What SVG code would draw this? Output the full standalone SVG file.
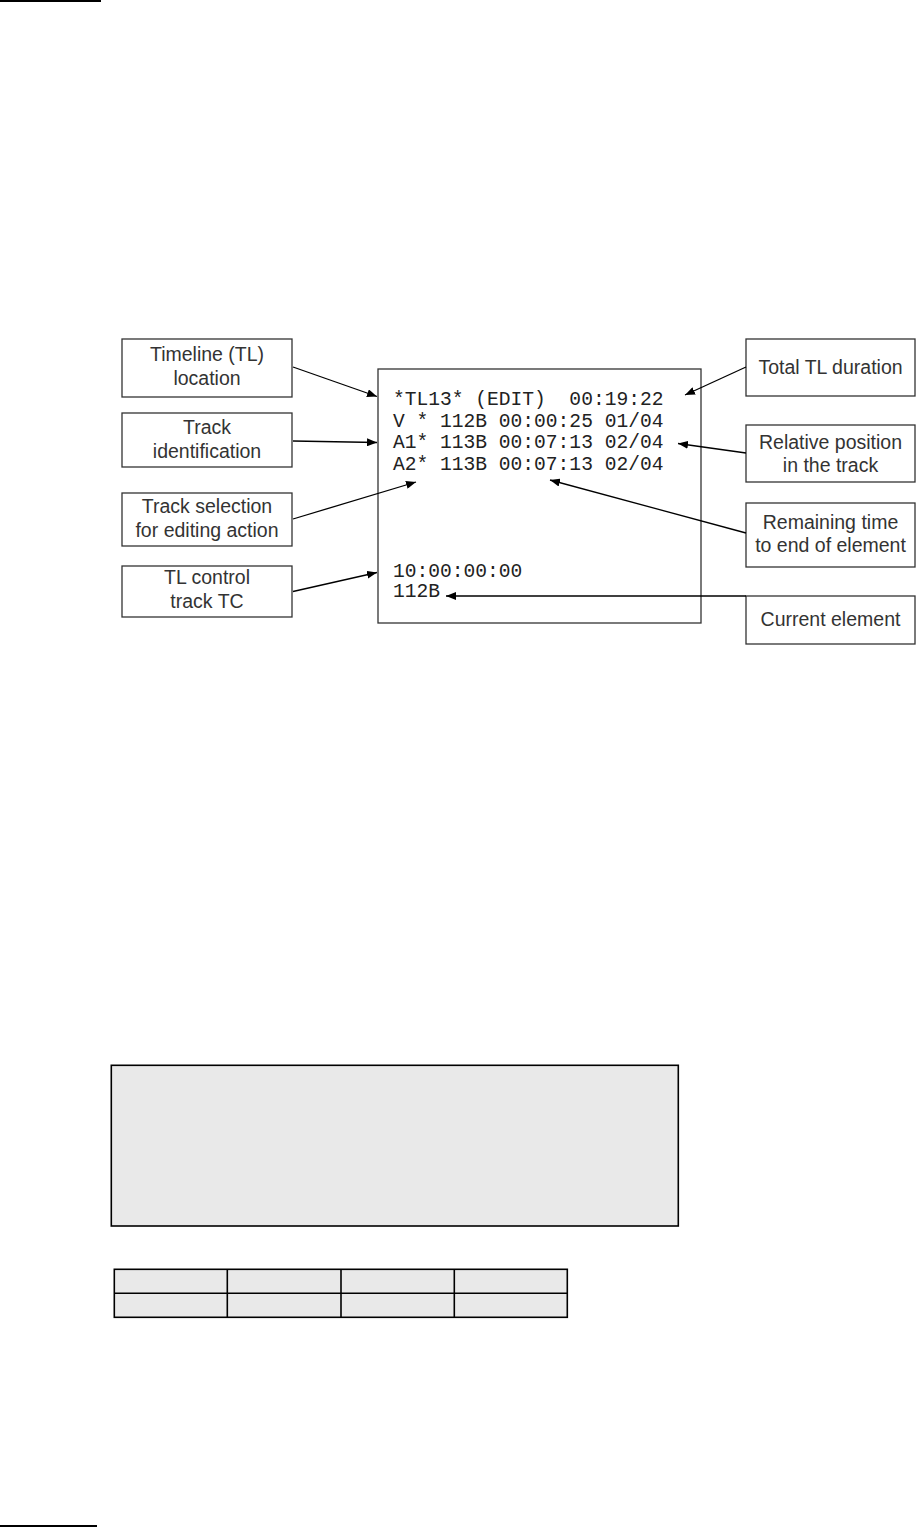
<svg xmlns="http://www.w3.org/2000/svg" width="917" height="1527" viewBox="0 0 917 1527">
<defs>
<marker id="ah" viewBox="0 0 10 8" refX="10" refY="4" markerWidth="10" markerHeight="8" markerUnits="userSpaceOnUse" orient="auto">
<path d="M0,0 L10,4 L0,8 Z" fill="#000"/>
</marker>
</defs>
<style>
.box{fill:#fff;stroke:#333;stroke-width:1.3}
.lbl{font-family:"Liberation Sans",Arial,sans-serif;font-size:19.5px;fill:#333;text-anchor:middle}
.mono{font-family:"Liberation Mono","Courier New",monospace;font-size:19.6px;fill:#222;white-space:pre}
.conn{stroke:#000;stroke-width:1.3;fill:none;marker-end:url(#ah)}
.grey{fill:#e9e9e9;stroke:#000;stroke-width:1.6}
</style>
<rect width="917" height="1527" fill="#fff"/>
<line x1="0" y1="1" x2="101" y2="1" stroke="#000" stroke-width="2"/>
<line x1="0" y1="1526" x2="97" y2="1526" stroke="#000" stroke-width="2"/>

<g id="display">
<rect class="box" x="378" y="369" width="323" height="254"/>
<text class="mono" x="393" y="405" xml:space="preserve">*TL13* (EDIT)  00:19:22</text>
<text class="mono" x="393" y="427" xml:space="preserve">V * 112B 00:00:25 01/04</text>
<text class="mono" x="393" y="448" xml:space="preserve">A1* 113B 00:07:13 02/04</text>
<text class="mono" x="393" y="470" xml:space="preserve">A2* 113B 00:07:13 02/04</text>
<text class="mono" x="393" y="577">10:00:00:00</text>
<text class="mono" x="393" y="597">112B</text>
</g>

<g id="tl-location">
<rect class="box" x="122" y="339" width="170" height="58"/>
<text class="lbl" x="207" y="361">Timeline (TL)</text>
<text class="lbl" x="207" y="385">location</text>
</g>
<g id="track-id">
<rect class="box" x="122" y="413" width="170" height="54"/>
<text class="lbl" x="207" y="434">Track</text>
<text class="lbl" x="207" y="457.5">identification</text>
</g>
<g id="track-sel">
<rect class="box" x="122" y="493" width="170" height="53"/>
<text class="lbl" x="207" y="513">Track selection</text>
<text class="lbl" x="207" y="536.5">for editing action</text>
</g>
<g id="tl-control">
<rect class="box" x="122" y="566" width="170" height="51"/>
<text class="lbl" x="207" y="584">TL control</text>
<text class="lbl" x="207" y="608">track TC</text>
</g>
<g id="total-dur">
<rect class="box" x="746" y="339" width="169" height="57"/>
<text class="lbl" x="830.5" y="373.5">Total TL duration</text>
</g>
<g id="rel-pos">
<rect class="box" x="746" y="425" width="169" height="57"/>
<text class="lbl" x="830.5" y="448.5">Relative position</text>
<text class="lbl" x="830.5" y="472">in the track</text>
</g>
<g id="remaining">
<rect class="box" x="746" y="503" width="169" height="64"/>
<text class="lbl" x="830.5" y="528.5">Remaining time</text>
<text class="lbl" x="830.5" y="552">to end of element</text>
</g>
<g id="current">
<rect class="box" x="746" y="596" width="169" height="48"/>
<text class="lbl" x="830.5" y="626">Current element</text>
</g>

<g id="connectors">
<line class="conn" x1="293" y1="367" x2="377" y2="396.5"/>
<line class="conn" x1="293" y1="441" x2="377" y2="442.5"/>
<line class="conn" x1="293" y1="519" x2="416" y2="482"/>
<line class="conn" x1="293" y1="591.5" x2="377" y2="572.5"/>
<line class="conn" x1="746" y1="367" x2="685" y2="395"/>
<line class="conn" x1="746" y1="453" x2="678" y2="443.5"/>
<line class="conn" x1="746" y1="533" x2="550" y2="480"/>
<line class="conn" x1="746" y1="596" x2="446" y2="596"/>
</g>

<g id="panel">
<rect class="grey" x="111.3" y="1065.3" width="567" height="160.7"/>
</g>
<g id="table">
<rect class="grey" x="114.3" y="1269.3" width="453" height="48"/>
<line x1="114.3" y1="1293.3" x2="567.3" y2="1293.3" stroke="#000" stroke-width="1.6"/>
<line x1="227.3" y1="1269.3" x2="227.3" y2="1317.3" stroke="#000" stroke-width="1.6"/>
<line x1="341" y1="1269.3" x2="341" y2="1317.3" stroke="#000" stroke-width="1.6"/>
<line x1="454.3" y1="1269.3" x2="454.3" y2="1317.3" stroke="#000" stroke-width="1.6"/>
</g>
</svg>
